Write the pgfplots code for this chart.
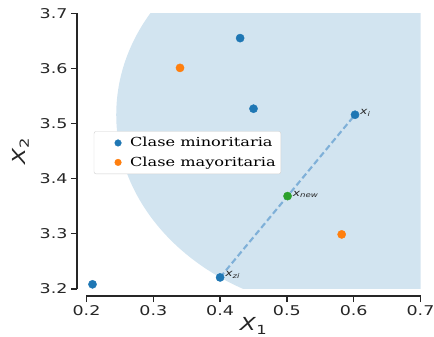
\documentclass[border=0pt]{standalone}
\usepackage{fontspec}
\setmainfont{DejaVu Sans}[FakeStretch=1.3]
\newfontfamily\legfont{DejaVu Serif}[FakeStretch=1.3]
\usepackage{pgfplots}
\pgfplotsset{compat=1.18}
\definecolor{tabblue}{HTML}{1F77B4}
\definecolor{taborange}{HTML}{FF7F0E}
\definecolor{tabgreen}{HTML}{2CA02C}
\definecolor{fillblue}{HTML}{D2E4F0}
\definecolor{dashblue}{HTML}{7FB0D8}
\definecolor{axgray}{HTML}{262626}
\begin{document}
\begin{tikzpicture}
\begin{axis}[
  name=ax,
  scale only axis,
  width=334bp, height=275.7bp,
  xmin=0.2, xmax=0.7, ymin=3.2, ymax=3.7,
  axis x line*=bottom, axis y line*=left,
  axis x line shift=7bp, axis y line shift=9.5bp,
  axis line style={-, line width=1.25bp, draw=axgray},
  tick align=outside,
  major tick length=6bp,
  tick style={line width=1.25bp, draw=axgray},
  xtick={0.2,0.3,0.4,0.5,0.6,0.7},
  ytick={3.2,3.3,3.4,3.5,3.6,3.7},
  xticklabels={0.2,0.3,0.4,0.5,0.6,0.7},
  yticklabels={3.2,3.3,3.4,3.5,3.6,3.7},
  ticklabel style={font=\fontsize{13.5}{16}\selectfont, text=axgray},
  every axis x label/.style={at={(axis description cs:0.5,0)}, anchor=center, yshift=-37bp},
  every axis y label/.style={at={(axis description cs:-0.197,0.5)}, anchor=center, rotate=90},
  xlabel={\textit{X}\textsubscript{1}},
  ylabel={\textit{X}\textsubscript{2}},
  label style={font=\fontsize{18}{20}\selectfont, text=axgray},
  legend style={at={(axis cs:0.211,3.486)}, anchor=north west, draw=black!18, rounded corners=2bp, fill=white,
    font=\legfont\fontsize{12.5}{14}\selectfont, inner xsep=3bp, inner ysep=4bp, row sep=4.5bp,
    /tikz/every even column/.append style={column sep=0bp}},
  legend image code/.code={\path[draw=none,fill=none] (0bp,0bp) rectangle (31bp,0bp); \draw[#1] plot coordinates {(21bp,0bp)};},
  legend cell align=left,
]
\fill[fillblue] (axis cs:0.602,3.516) ellipse [x radius=238.8bp, y radius=197.1bp];
\addplot[forget plot, dashblue, line width=2.1bp, dash pattern=on 6bp off 3.2bp] coordinates {
  (0.400,3.221) (0.602,3.516)
};
\addplot[only marks, mark=*, mark size=4.1bp, color=tabblue, legend image post style={mark size=3.3bp}] coordinates {
  (0.209,3.2085) (0.400,3.221) (0.430,3.655) (0.450,3.527) (0.602,3.516)
};
\addlegendentry{Clase minoritaria}
\addplot[only marks, mark=*, mark size=4.1bp, color=taborange, legend image post style={mark size=3.3bp}] coordinates {
  (0.340,3.601) (0.582,3.299)
};
\addlegendentry{Clase mayoritaria}
\addplot[forget plot, only marks, mark=*, mark size=4.1bp, color=tabgreen] coordinates {
  (0.501,3.3685)
};
\node[anchor=south west, inner sep=0pt, xshift=5bp, yshift=-1.5bp, font=\fontsize{9.5}{10}\selectfont\itshape, text=axgray] at (axis cs:0.602,3.516) {x\textsubscript{i}};
\node[anchor=south west, inner sep=0pt, xshift=5bp, yshift=-1.5bp, font=\fontsize{9.5}{10}\selectfont\itshape, text=axgray] at (axis cs:0.501,3.3685) {x\textsubscript{new}};
\node[anchor=south west, inner sep=0pt, xshift=5bp, yshift=-1.5bp, font=\fontsize{9.5}{10}\selectfont\itshape, text=axgray] at (axis cs:0.400,3.221) {x\textsubscript{zi}};
\end{axis}
\pgfresetboundingbox
\path (ax.south west) ++(-86.5bp,-48bp) rectangle ([shift={(13.5bp,13.3bp)}]ax.north east);
\end{tikzpicture}
\end{document}
